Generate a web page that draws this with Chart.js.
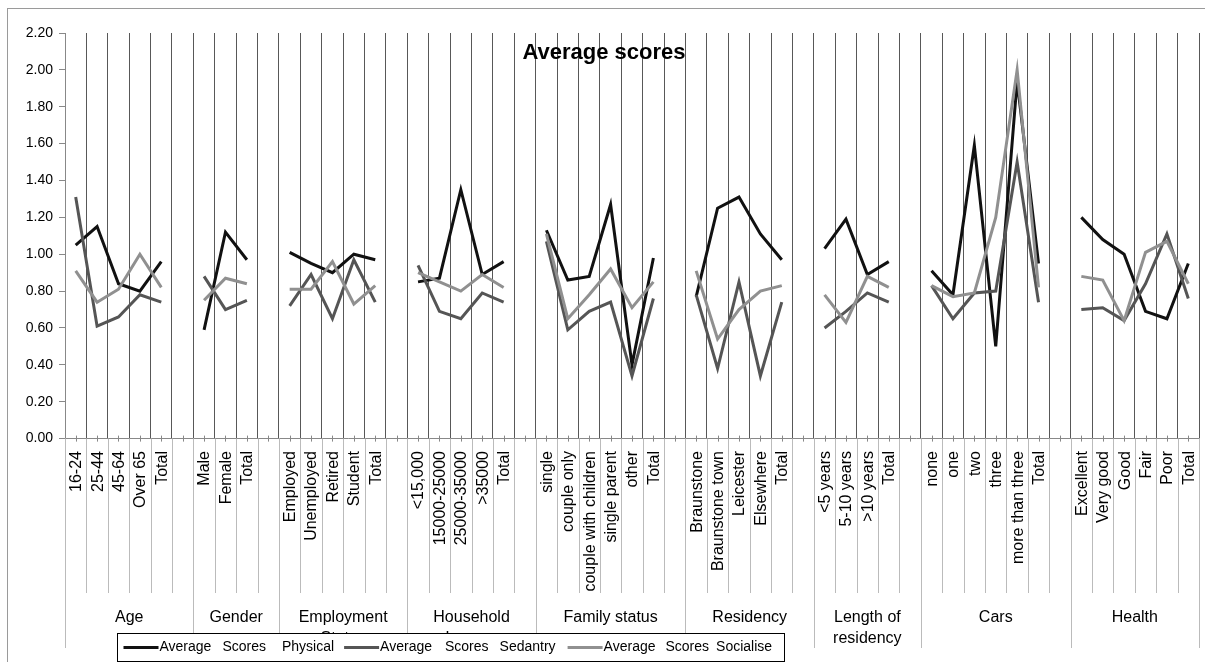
<!DOCTYPE html>
<html>
<head>
<meta charset="utf-8">
<script src="https://cdn.jsdelivr.net/npm/chart.js@4/dist/chart.umd.min.js"></script>
<style>
  html, body { margin: 0; padding: 0; background: #ffffff; }
  #wrap { width: 1205px; height: 662px; position: relative; }
</style>
</head>
<body>
<div id="wrap"><canvas id="chart" width="1205" height="662"></canvas></div>
<script>
// Category labels along the x axis (empty strings separate the groups)
const categories = [
  '16-24', '25-44', '45-64', 'Over 65', 'Total', '',
  'Male', 'Female', 'Total', '',
  'Employed', 'Unemployed', 'Retired', 'Student', 'Total', '',
  '<15,000', '15000-25000', '25000-35000', '>35000', 'Total', '',
  'single', 'couple only', 'couple with children', 'single parent', 'other', 'Total', '',
  'Braunstone', 'Braunstone town', 'Leicester', 'Elsewhere', 'Total', '',
  '<5 years', '5-10 years', '>10 years', 'Total', '',
  'none', 'one', 'two', 'three', 'more than three', 'Total', '',
  'Excellent', 'Very good', 'Good', 'Fair', 'Poor', 'Total'
];

// Group captions under the categories and how many category slots each covers
const groupNames = [
  ['Age'], ['Gender'], ['Employment', 'Status'], ['Household', 'Income'],
  ['Family status'], ['Residency'], ['Length of', 'residency'], ['Cars'], ['Health']
];
const groupSizes = [6, 4, 6, 6, 7, 6, 5, 7, 6];

const seriesNames = ['Average Scores Physical', 'Average Scores Sedantry', 'Average Scores Socialise'];

const physical = [
  1.05, 1.15, 0.84, 0.80, 0.96, null,
  0.59, 1.12, 0.97, null,
  1.01, 0.95, 0.90, 1.00, 0.97, null,
  0.85, 0.87, 1.35, 0.89, 0.96, null,
  1.13, 0.86, 0.88, 1.27, 0.40, 0.98, null,
  0.77, 1.25, 1.31, 1.11, 0.97, null,
  1.03, 1.19, 0.89, 0.96, null,
  0.91, 0.78, 1.59, 0.50, 1.94, 0.95, null,
  1.20, 1.08, 1.00, 0.69, 0.65, 0.95
];

const sedentary = [
  1.31, 0.61, 0.66, 0.78, 0.74, null,
  0.88, 0.70, 0.75, null,
  0.72, 0.89, 0.65, 0.97, 0.74, null,
  0.94, 0.69, 0.65, 0.79, 0.74, null,
  1.07, 0.59, 0.69, 0.74, 0.34, 0.76, null,
  0.78, 0.38, 0.85, 0.34, 0.74, null,
  0.60, 0.69, 0.79, 0.74, null,
  0.83, 0.65, 0.79, 0.80, 1.50, 0.74, null,
  0.70, 0.71, 0.64, 0.84, 1.11, 0.76
];

const socialise = [
  0.91, 0.74, 0.81, 1.00, 0.82, null,
  0.75, 0.87, 0.84, null,
  0.81, 0.81, 0.96, 0.73, 0.83, null,
  0.90, 0.85, 0.80, 0.89, 0.82, null,
  1.11, 0.65, 0.78, 0.92, 0.71, 0.85, null,
  0.91, 0.54, 0.70, 0.80, 0.83, null,
  0.78, 0.63, 0.88, 0.82, null,
  0.83, 0.77, 0.79, 1.20, 2.00, 0.82, null,
  0.88, 0.86, 0.64, 1.01, 1.07, 0.84
];

const FONT = '"Liberation Sans", Arial, sans-serif';
const lineColors = ['#111111', '#555555', '#909090'];
// spacing between the words of each legend entry, and after each entry
const legendWordGaps = [[11, 16], [13, 11], [10, 7]];
const legendItemGaps = [10, 12, 0];

// Frame, title, category and group labels, and the boxed legend
const decorations = {
  id: 'decorations',
  afterDraw(chart) {
    const ctx = chart.ctx;
    const xs = chart.scales.x;
    const area = chart.chartArea;
    const half = (xs.getPixelForValue(1) - xs.getPixelForValue(0)) / 2;
    ctx.save();

    // outer frame
    ctx.strokeStyle = '#9a9a9a';
    ctx.lineWidth = 1;
    ctx.strokeRect(7.5, 8.5, 1230, 700);

    // title
    ctx.fillStyle = '#000';
    ctx.font = 'bold 22px ' + FONT;
    ctx.textAlign = 'center';
    ctx.textBaseline = 'middle';
    ctx.fillText('Average scores', 604, 53);

    // category separators below the axis
    ctx.strokeStyle = '#bbbbbb';
    ctx.lineWidth = 1;
    for (let i = 0; i <= categories.length; i++) {
      const x = Math.round(xs.getPixelForValue(0) - half + i * 2 * half) + 0.5;
      ctx.beginPath();
      ctx.moveTo(x, area.bottom);
      ctx.lineTo(x, 593);
      ctx.stroke();
    }

    // group separators reaching further down
    let start = 0;
    const bounds = [0];
    groupSizes.forEach(n => { start += n; bounds.push(start); });
    bounds.forEach(b => {
      const x = Math.round(xs.getPixelForValue(0) - half + b * 2 * half) + 0.5;
      ctx.beginPath();
      ctx.moveTo(x, area.bottom);
      ctx.lineTo(x, 648);
      ctx.stroke();
    });

    // small ticks at category centres
    ctx.strokeStyle = '#888888';
    categories.forEach((c, i) => {
      const x = Math.round(xs.getPixelForValue(i)) + 0.5;
      ctx.beginPath();
      ctx.moveTo(x, area.bottom - 3);
      ctx.lineTo(x, area.bottom + 3);
      ctx.stroke();
    });

    // rotated category labels
    ctx.fillStyle = '#000';
    ctx.font = '16px ' + FONT;
    ctx.textAlign = 'right';
    ctx.textBaseline = 'middle';
    categories.forEach((c, i) => {
      if (!c) return;
      const x = xs.getPixelForValue(i);
      ctx.save();
      ctx.translate(x + 1, 451);
      ctx.rotate(-Math.PI / 2);
      ctx.fillText(c, 0, 0);
      ctx.restore();
    });

    // group captions
    ctx.textAlign = 'center';
    groupNames.forEach((lines, g) => {
      const x0 = xs.getPixelForValue(bounds[g]) - half;
      const x1 = xs.getPixelForValue(bounds[g + 1] - 1) + half;
      const cx = (x0 + x1) / 2;
      lines.forEach((t, k) => ctx.fillText(t, cx, 618 + k * 21));
    });

    // legend
    const lx = 117.5, ly = 633.5, lw = 667, lh = 28;
    ctx.fillStyle = '#ffffff';
    ctx.fillRect(lx, ly, lw, lh);
    ctx.strokeStyle = '#000';
    ctx.lineWidth = 1;
    ctx.strokeRect(lx, ly, lw, lh);
    ctx.font = '14px ' + FONT;
    ctx.textAlign = 'left';
    ctx.textBaseline = 'middle';
    const cy = ly + lh / 2;
    let x = lx + 6;
    chart.data.datasets.forEach((ds, d) => {
      ctx.strokeStyle = ds.borderColor;
      ctx.lineWidth = 3;
      ctx.beginPath();
      ctx.moveTo(x, cy);
      ctx.lineTo(x + 35, cy);
      ctx.stroke();
      x += 36;
      ctx.fillStyle = '#000';
      const words = ds.label.split(' ');
      words.forEach((w, k) => {
        ctx.fillText(w, x, cy);
        x += ctx.measureText(w).width + (k < words.length - 1 ? legendWordGaps[d][k] : 0);
      });
      x += legendItemGaps[d];
    });

    ctx.restore();
  }
};

new Chart(document.getElementById('chart'), {
  type: 'line',
  data: {
    labels: categories,
    datasets: [physical, sedentary, socialise].map((vals, d) => ({
      label: seriesNames[d],
      data: vals,
      borderColor: lineColors[d],
      backgroundColor: lineColors[d],
      borderWidth: 3,
      pointRadius: 0,
      tension: 0,
      spanGaps: false,
      order: 3 - d
    }))
  },
  options: {
    responsive: false,
    animation: false,
    devicePixelRatio: 1,
    layout: { padding: { top: 33, right: 6, left: 0, bottom: 0 } },
    plugins: {
      legend: { display: false },
      title: { display: false },
      tooltip: { enabled: false }
    },
    scales: {
      x: {
        type: 'category',
        offset: true,
        grid: { offset: true, color: '#585858', lineWidth: 1, drawTicks: false },
        border: { display: true, color: '#888888' },
        ticks: { display: false },
        afterFit(s) { s.height = 223.4; }
      },
      y: {
        min: 0,
        max: 2.2,
        ticks: {
          stepSize: 0.2,
          callback: v => Number(v).toFixed(2),
          font: { size: 14, family: FONT },
          color: '#000',
          padding: 6
        },
        grid: { drawOnChartArea: false, drawTicks: true, tickLength: 6, color: '#888888' },
        border: { display: true, color: '#888888' },
        afterFit(s) { s.width = 65; }
      }
    }
  },
  plugins: [decorations]
});
</script>
</body>
</html>
